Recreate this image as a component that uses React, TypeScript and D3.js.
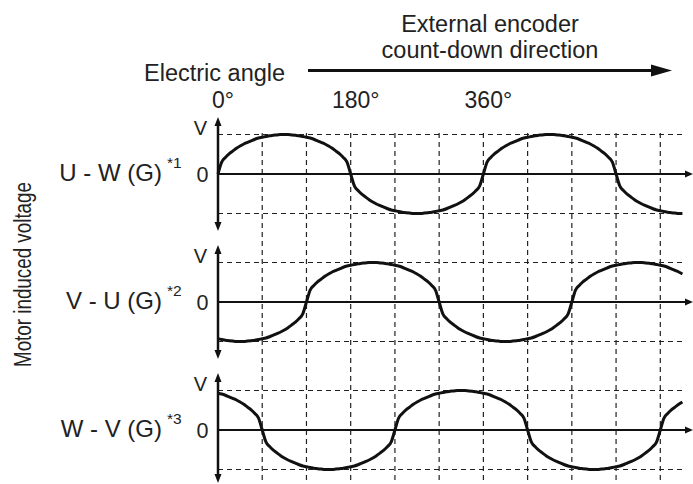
import React from "react";
import * as d3 from "d3";

// ---- data ----
const angleStep = 5; // degrees between samples
const angleTicks = [0, 180, 360];
const gridAngles = [60, 120, 180, 240, 300, 360, 420, 480, 540, 600];
const panelNames = ["U - W (G)", "V - U (G)", "W - V (G)"];
const panelNotes = ["*1", "*2", "*3"];

const uwValues = [
  0, .30, .42, .51, .58, .65, .71, .76, .80, .84, .88, .91, .93, .95, .97, .98, .99, 1, 1, 1, .99, .98, .97, .95, .93, .91, .88, .84, .80, .76, .71, .65, .58, .51, .42, .30,
  0, -.30, -.42, -.51, -.58, -.65, -.71, -.76, -.80, -.84, -.88, -.91, -.93, -.95, -.97, -.98, -.99, -1, -1, -1, -.99, -.98, -.97, -.95, -.93, -.91, -.88, -.84, -.80, -.76, -.71, -.65, -.58, -.51, -.42, -.30,
  0, .30, .42, .51, .58, .65, .71, .76, .80, .84, .88, .91, .93, .95, .97, .98, .99, 1, 1, 1, .99, .98, .97, .95, .93, .91, .88, .84, .80, .76, .71, .65, .58, .51, .42, .30,
  0, -.30, -.42, -.51, -.58, -.65, -.71, -.76, -.80, -.84, -.88, -.91, -.93, -.95, -.97, -.98, -.99, -1, -1,
];
const vuValues = [
  -.93, -.95, -.97, -.98, -.99, -1, -1, -1, -.99, -.98, -.97, -.95, -.93, -.91, -.88, -.84, -.80, -.76, -.71, -.65, -.58, -.51, -.42, -.30,
  0, .30, .42, .51, .58, .65, .71, .76, .80, .84, .88, .91, .93, .95, .97, .98, .99, 1, 1, 1, .99, .98, .97, .95, .93, .91, .88, .84, .80, .76, .71, .65, .58, .51, .42, .30,
  0, -.30, -.42, -.51, -.58, -.65, -.71, -.76, -.80, -.84, -.88, -.91, -.93, -.95, -.97, -.98, -.99, -1, -1, -1, -.99, -.98, -.97, -.95, -.93, -.91, -.88, -.84, -.80, -.76, -.71, -.65, -.58, -.51, -.42, -.30,
  0, .30, .42, .51, .58, .65, .71, .76, .80, .84, .88, .91, .93, .95, .97, .98, .99, 1, 1, 1, .99, .98, .97, .95, .93, .91, .88, .84, .80, .76, .71,
];
const wvValues = [
  .93, .91, .88, .84, .80, .76, .71, .65, .58, .51, .42, .30,
  0, -.30, -.42, -.51, -.58, -.65, -.71, -.76, -.80, -.84, -.88, -.91, -.93, -.95, -.97, -.98, -.99, -1, -1, -1, -.99, -.98, -.97, -.95, -.93, -.91, -.88, -.84, -.80, -.76, -.71, -.65, -.58, -.51, -.42, -.30,
  0, .30, .42, .51, .58, .65, .71, .76, .80, .84, .88, .91, .93, .95, .97, .98, .99, 1, 1, 1, .99, .98, .97, .95, .93, .91, .88, .84, .80, .76, .71, .65, .58, .51, .42, .30,
  0, -.30, -.42, -.51, -.58, -.65, -.71, -.76, -.80, -.84, -.88, -.91, -.93, -.95, -.97, -.98, -.99, -1, -1, -1, -.99, -.98, -.97, -.95, -.93, -.91, -.88, -.84, -.80, -.76, -.71, -.65, -.58, -.51, -.42, -.30,
  0, .30, .42, .51, .58, .65, .71,
];
const series = [uwValues, vuValues, wvValues];

// ---- layout ----
const W = 693;
const H = 484;
const FONT = "'Liberation Sans', Arial, Helvetica, sans-serif";
const axisX = 218;
const zeros = [174, 302, 430];
const amp = 39.5;

export default function App() {
  const x = d3.scaleLinear().domain([0, 600]).range([axisX, 660.3]);
  const lineGen = (yS: d3.ScaleLinear<number, number>) =>
    d3
      .line<number>()
      .x((_, i) => x(i * angleStep))
      .y((v) => yS(v))
      .curve(d3.curveMonotoneX);

  const arrowHead = (tx: number, ty: number, dir: "up" | "down" | "right", len = 8, half = 3.5) => {
    let pts: [number, number][];
    if (dir === "up") pts = [[tx, ty], [tx - half, ty + len], [tx + half, ty + len]];
    else if (dir === "down") pts = [[tx, ty], [tx - half, ty - len], [tx + half, ty - len]];
    else pts = [[tx, ty], [tx - len, ty - half], [tx - len, ty + half]];
    return <polygon points={pts.map((p) => p.join(",")).join(" ")} fill="#111" />;
  };

  return (
    <svg
      width={W}
      height={H}
      style={{ position: "absolute", left: 0, top: 0, background: "#fff" }}
      fontFamily={FONT}
    >
      <rect width={W} height={H} fill="#fff" />
      {/* header */}
      <text x={490} y={32} fontSize={23.5} textAnchor="middle" fill="#222">External encoder</text>
      <text x={490} y={58} fontSize={23.5} textAnchor="middle" fill="#222">count-down direction</text>
      <text x={144} y={81} fontSize={23.5} fill="#222">Electric angle</text>
      <line x1={308} y1={70.5} x2={653} y2={70.5} stroke="#111" strokeWidth={3} />
      {arrowHead(672, 70.5, "right", 21, 6)}
      {angleTicks.map((a) => (
        <text key={a} x={x(a) + 5} y={108} fontSize={23} textAnchor="middle" fill="#222">
          {a}°
        </text>
      ))}

      {/* y-axis title */}
      <text
        transform={`translate(31,274.5) rotate(-90)`}
        fontSize={23}
        textAnchor="middle"
        textLength={185}
        lengthAdjust="spacingAndGlyphs"
        fill="#222"
      >
        Motor induced voltage
      </text>

      {/* vertical grid */}
      {gridAngles.map((a) => (
        <line
          key={a}
          x1={x(a)}
          x2={x(a)}
          y1={133}
          y2={H}
          stroke="#222"
          strokeWidth={1.2}
          strokeDasharray="5,4"
        />
      ))}

      {series.map((vals, k) => {
        const z = zeros[k];
        const y = d3.scaleLinear().domain([-1, 1]).range([z + amp, z - amp]);
        const bottom = k === 2 ? H - 1 : z + 57;
        return (
          <g key={k}>
            {[1, -1].map((v) => (
              <line
                key={v}
                x1={axisX}
                x2={682}
                y1={y(v)}
                y2={y(v)}
                stroke="#222"
                strokeWidth={1.2}
                strokeDasharray="5,4"
              />
            ))}
            <line x1={axisX} x2={688} y1={z} y2={z} stroke="#111" strokeWidth={2} />
            {arrowHead(693, z, "right", 8, 3.5)}
            <line x1={axisX} x2={axisX} y1={z - 50} y2={bottom - 6} stroke="#111" strokeWidth={2.5} />
            {arrowHead(axisX, z - 57, "up", 9, 3.5)}
            {arrowHead(axisX, bottom, "down", 9, 3.5)}
            <path d={lineGen(y)(vals) || ""} fill="none" stroke="#111" strokeWidth={3} />
            <text x={207} y={y(1)} fontSize={20} textAnchor="end" fill="#222">V</text>
            <text x={208.5} y={z + 8} fontSize={21.5} textAnchor="end" fill="#222">0</text>
            <text x={162} y={z + 6.5} fontSize={24} textAnchor="end" fill="#222">{panelNames[k]}</text>
            <text x={167} y={z - 6} fontSize={15.5} fill="#222">{panelNotes[k]}</text>
          </g>
        );
      })}
    </svg>
  );
}
